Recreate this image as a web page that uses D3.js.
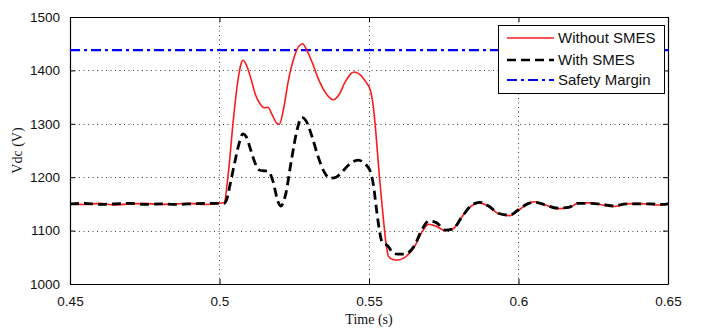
<!DOCTYPE html>
<html>
<head>
<meta charset="utf-8">
<script src="https://cdn.jsdelivr.net/npm/d3@7/dist/d3.min.js"></script>
<style>
  html, body { margin: 0; padding: 0; background: #fff; }
  svg { display: block; }
</style>
</head>
<body>
<svg id="chart" width="702" height="332"></svg>
<script>
// DC-link voltage response, with and without SMES
const xTicks = [0.45, 0.5, 0.55, 0.6, 0.65];
const yTicks = [1000, 1100, 1200, 1300, 1400, 1500];
const xTickLabels = ["0.45", "0.5", "0.55", "0.6", "0.65"];
const yTickLabels = ["1000", "1100", "1200", "1300", "1400", "1500"];

const seriesNames = ["Without SMES", "With SMES", "Safety Margin"];
const safetyMargin = 1438;

// Without SMES (time in s, voltage in V)
const tWithout = [0.450, 0.455, 0.460, 0.465, 0.470, 0.475, 0.480, 0.485, 0.490, 0.495, 0.5015,
  0.503, 0.5045, 0.506, 0.5072, 0.5078, 0.509, 0.5105, 0.512, 0.5135, 0.515, 0.5162, 0.5175, 0.519, 0.5200,
  0.5215, 0.523, 0.525, 0.5265, 0.5278, 0.529, 0.531, 0.533, 0.535, 0.537, 0.538, 0.540, 0.542, 0.544, 0.545,
  0.547, 0.549, 0.5505, 0.5515, 0.5525, 0.5535, 0.5545, 0.5555, 0.5565, 0.558, 0.5595, 0.562, 0.565, 0.568,
  0.570, 0.5725, 0.5755, 0.578, 0.581, 0.584, 0.587, 0.590, 0.5935, 0.597, 0.600, 0.603, 0.6055, 0.609,
  0.613, 0.617, 0.620, 0.624, 0.628, 0.632, 0.636, 0.640, 0.644, 0.648, 0.650];
const vWithout = [1150, 1149, 1151, 1148, 1150, 1151, 1149, 1150, 1151, 1149, 1152,
  1210, 1300, 1375, 1412, 1419, 1410, 1385, 1355, 1338, 1330, 1331, 1318, 1302, 1299,
  1330, 1380, 1425, 1445, 1450, 1440, 1415, 1385, 1362, 1348, 1345, 1355, 1378, 1394, 1397,
  1392, 1378, 1362, 1330, 1270, 1200, 1140, 1085, 1052, 1046, 1045, 1050, 1068, 1100,
  1112, 1108, 1100, 1103, 1125, 1145, 1152, 1145, 1131, 1128, 1138, 1150, 1154, 1148,
  1141, 1143, 1152, 1152, 1148, 1145, 1150, 1151, 1149, 1148, 1150];

// With SMES (time in s, voltage in V)
const tWith = [0.450, 0.455, 0.460, 0.465, 0.470, 0.475, 0.480, 0.485, 0.490, 0.495, 0.5015,
  0.5025, 0.5035, 0.505, 0.5065, 0.5078, 0.509, 0.5105, 0.512, 0.5135, 0.515, 0.5165, 0.518, 0.5195, 0.5205,
  0.522, 0.524, 0.526, 0.5275, 0.529, 0.531, 0.533, 0.535, 0.537, 0.539, 0.541, 0.543, 0.545, 0.5465,
  0.548, 0.5495, 0.5505, 0.5515, 0.5525, 0.5535, 0.5545, 0.5555, 0.5565, 0.558, 0.5595, 0.562, 0.565, 0.568,
  0.570, 0.5725, 0.5755, 0.578, 0.581, 0.584, 0.587, 0.590, 0.5935, 0.597, 0.600, 0.603, 0.6055, 0.609,
  0.613, 0.617, 0.620, 0.624, 0.628, 0.632, 0.636, 0.640, 0.644, 0.648, 0.650];
const vWith = [1150, 1151, 1149, 1150, 1151, 1149, 1150, 1149, 1150, 1151, 1151,
  1160, 1185, 1225, 1262, 1281, 1275, 1250, 1225, 1213, 1212, 1210, 1190, 1155, 1146,
  1165, 1230, 1290, 1312, 1305, 1275, 1238, 1210, 1198, 1200, 1210, 1222, 1230, 1232,
  1228, 1220, 1210, 1185, 1140, 1100, 1077, 1075, 1070, 1058, 1056, 1056, 1070, 1105,
  1118, 1115, 1101, 1103, 1125, 1146, 1153, 1146, 1132, 1129, 1139, 1150, 1153, 1148,
  1142, 1144, 1151, 1151, 1149, 1146, 1150, 1150, 1150, 1149, 1150];

const svg = d3.select("#chart");
const W = 702, H = 332;
const margin = { left: 70, right: 34, top: 17, bottom: 48 };
const x0 = margin.left, x1 = W - margin.right, y0 = H - margin.bottom, y1 = margin.top;

const x = d3.scaleLinear().domain([0.45, 0.65]).range([x0, x1]);
const y = d3.scaleLinear().domain([1000, 1500]).range([y0, y1]);

// dotted grid
const grid = svg.append("g").attr("stroke", "#444").attr("stroke-width", 1)
  .attr("stroke-dasharray", "1,3.5").attr("fill", "none");
xTicks.slice(1, -1).forEach(v => {
  grid.append("line").attr("x1", Math.round(x(v)) + 0.5).attr("x2", Math.round(x(v)) + 0.5)
    .attr("y1", y1).attr("y2", y0);
});
yTicks.slice(1, -1).forEach(v => {
  grid.append("line").attr("y1", Math.round(y(v)) + 0.5).attr("y2", Math.round(y(v)) + 0.5)
    .attr("x1", x0).attr("x2", x1);
});

// axes with inward ticks on all four sides
const fmtX = (d, i) => xTickLabels[i];
const fmtY = (d, i) => yTickLabels[i];
const axisFont = "'Liberation Sans', Arial, sans-serif";

const gBottom = svg.append("g").attr("transform", `translate(0,${y0})`)
  .call(d3.axisBottom(x).tickValues(xTicks).tickFormat(fmtX).tickSizeInner(-5).tickSizeOuter(0).tickPadding(12));
const gTop = svg.append("g").attr("transform", `translate(0,${y1})`)
  .call(d3.axisTop(x).tickValues(xTicks).tickFormat("").tickSizeInner(-5).tickSizeOuter(0));
const gLeft = svg.append("g").attr("transform", `translate(${x0},0)`)
  .call(d3.axisLeft(y).tickValues(yTicks).tickFormat(fmtY).tickSizeInner(-5).tickSizeOuter(0).tickPadding(10));
const gRight = svg.append("g").attr("transform", `translate(${x1},0)`)
  .call(d3.axisRight(y).tickValues(yTicks).tickFormat("").tickSizeInner(-5).tickSizeOuter(0));

[gBottom, gTop, gLeft, gRight].forEach(g => {
  g.selectAll(".domain").attr("stroke", "#000").attr("stroke-width", 1.2);
  g.selectAll(".tick line").attr("stroke", "#000");
  g.selectAll("text").attr("font-family", axisFont).attr("font-size", 13.5).attr("fill", "#111");
});

// axis titles
svg.append("text").attr("x", (x0 + x1) / 2).attr("y", 324).attr("text-anchor", "middle")
  .attr("font-family", "'Liberation Serif', 'Times New Roman', serif").attr("font-size", 14)
  .attr("fill", "#111").text("Time (s)");
svg.append("text").attr("transform", `translate(22,${(y0 + y1) / 2}) rotate(-90)`)
  .attr("text-anchor", "middle")
  .attr("font-family", "'Liberation Serif', 'Times New Roman', serif").attr("font-size", 14)
  .attr("fill", "#111").text("Vdc (V)");

// curves
const plot = svg.append("g");
const line = d3.line().x(d => x(d[0])).y(d => y(d[1])).curve(d3.curveMonotoneX);

plot.append("line").attr("x1", x0).attr("x2", x1)
  .attr("y1", y(safetyMargin)).attr("y2", y(safetyMargin))
  .attr("stroke", "#0000ff").attr("stroke-width", 2.2).attr("stroke-dasharray", "10,4,3,4");

plot.append("path").datum(d3.zip(tWithout, vWithout)).attr("d", line)
  .attr("fill", "none").attr("stroke", "#ff1a1a").attr("stroke-width", 1.6);

plot.append("path").datum(d3.zip(tWith, vWith)).attr("d", line)
  .attr("fill", "none").attr("stroke", "#000").attr("stroke-width", 2.8)
  .attr("stroke-dasharray", "9,5");

// legend
const lg = svg.append("g");
lg.append("rect").attr("x", 498.5).attr("y", 25.5).attr("width", 166).attr("height", 68)
  .attr("fill", "#fff").attr("stroke", "#000").attr("stroke-width", 1);
const legendStyles = [
  { stroke: "#ff1a1a", width: 1.6, dash: null },
  { stroke: "#000", width: 2.6, dash: "9,5" },
  { stroke: "#0000ff", width: 2.2, dash: "10,4,3,4" }
];
const rowY = [38, 60, 80];
seriesNames.forEach((name, i) => {
  const s = legendStyles[i];
  const l = lg.append("line").attr("x1", 507).attr("x2", 554)
    .attr("y1", rowY[i]).attr("y2", rowY[i])
    .attr("stroke", s.stroke).attr("stroke-width", s.width);
  if (s.dash) l.attr("stroke-dasharray", s.dash);
  lg.append("text").attr("x", 558).attr("y", rowY[i]).attr("dy", "0.35em")
    .attr("font-family", axisFont).attr("font-size", 15).attr("fill", "#111").text(name);
});
</script>
</body>
</html>
